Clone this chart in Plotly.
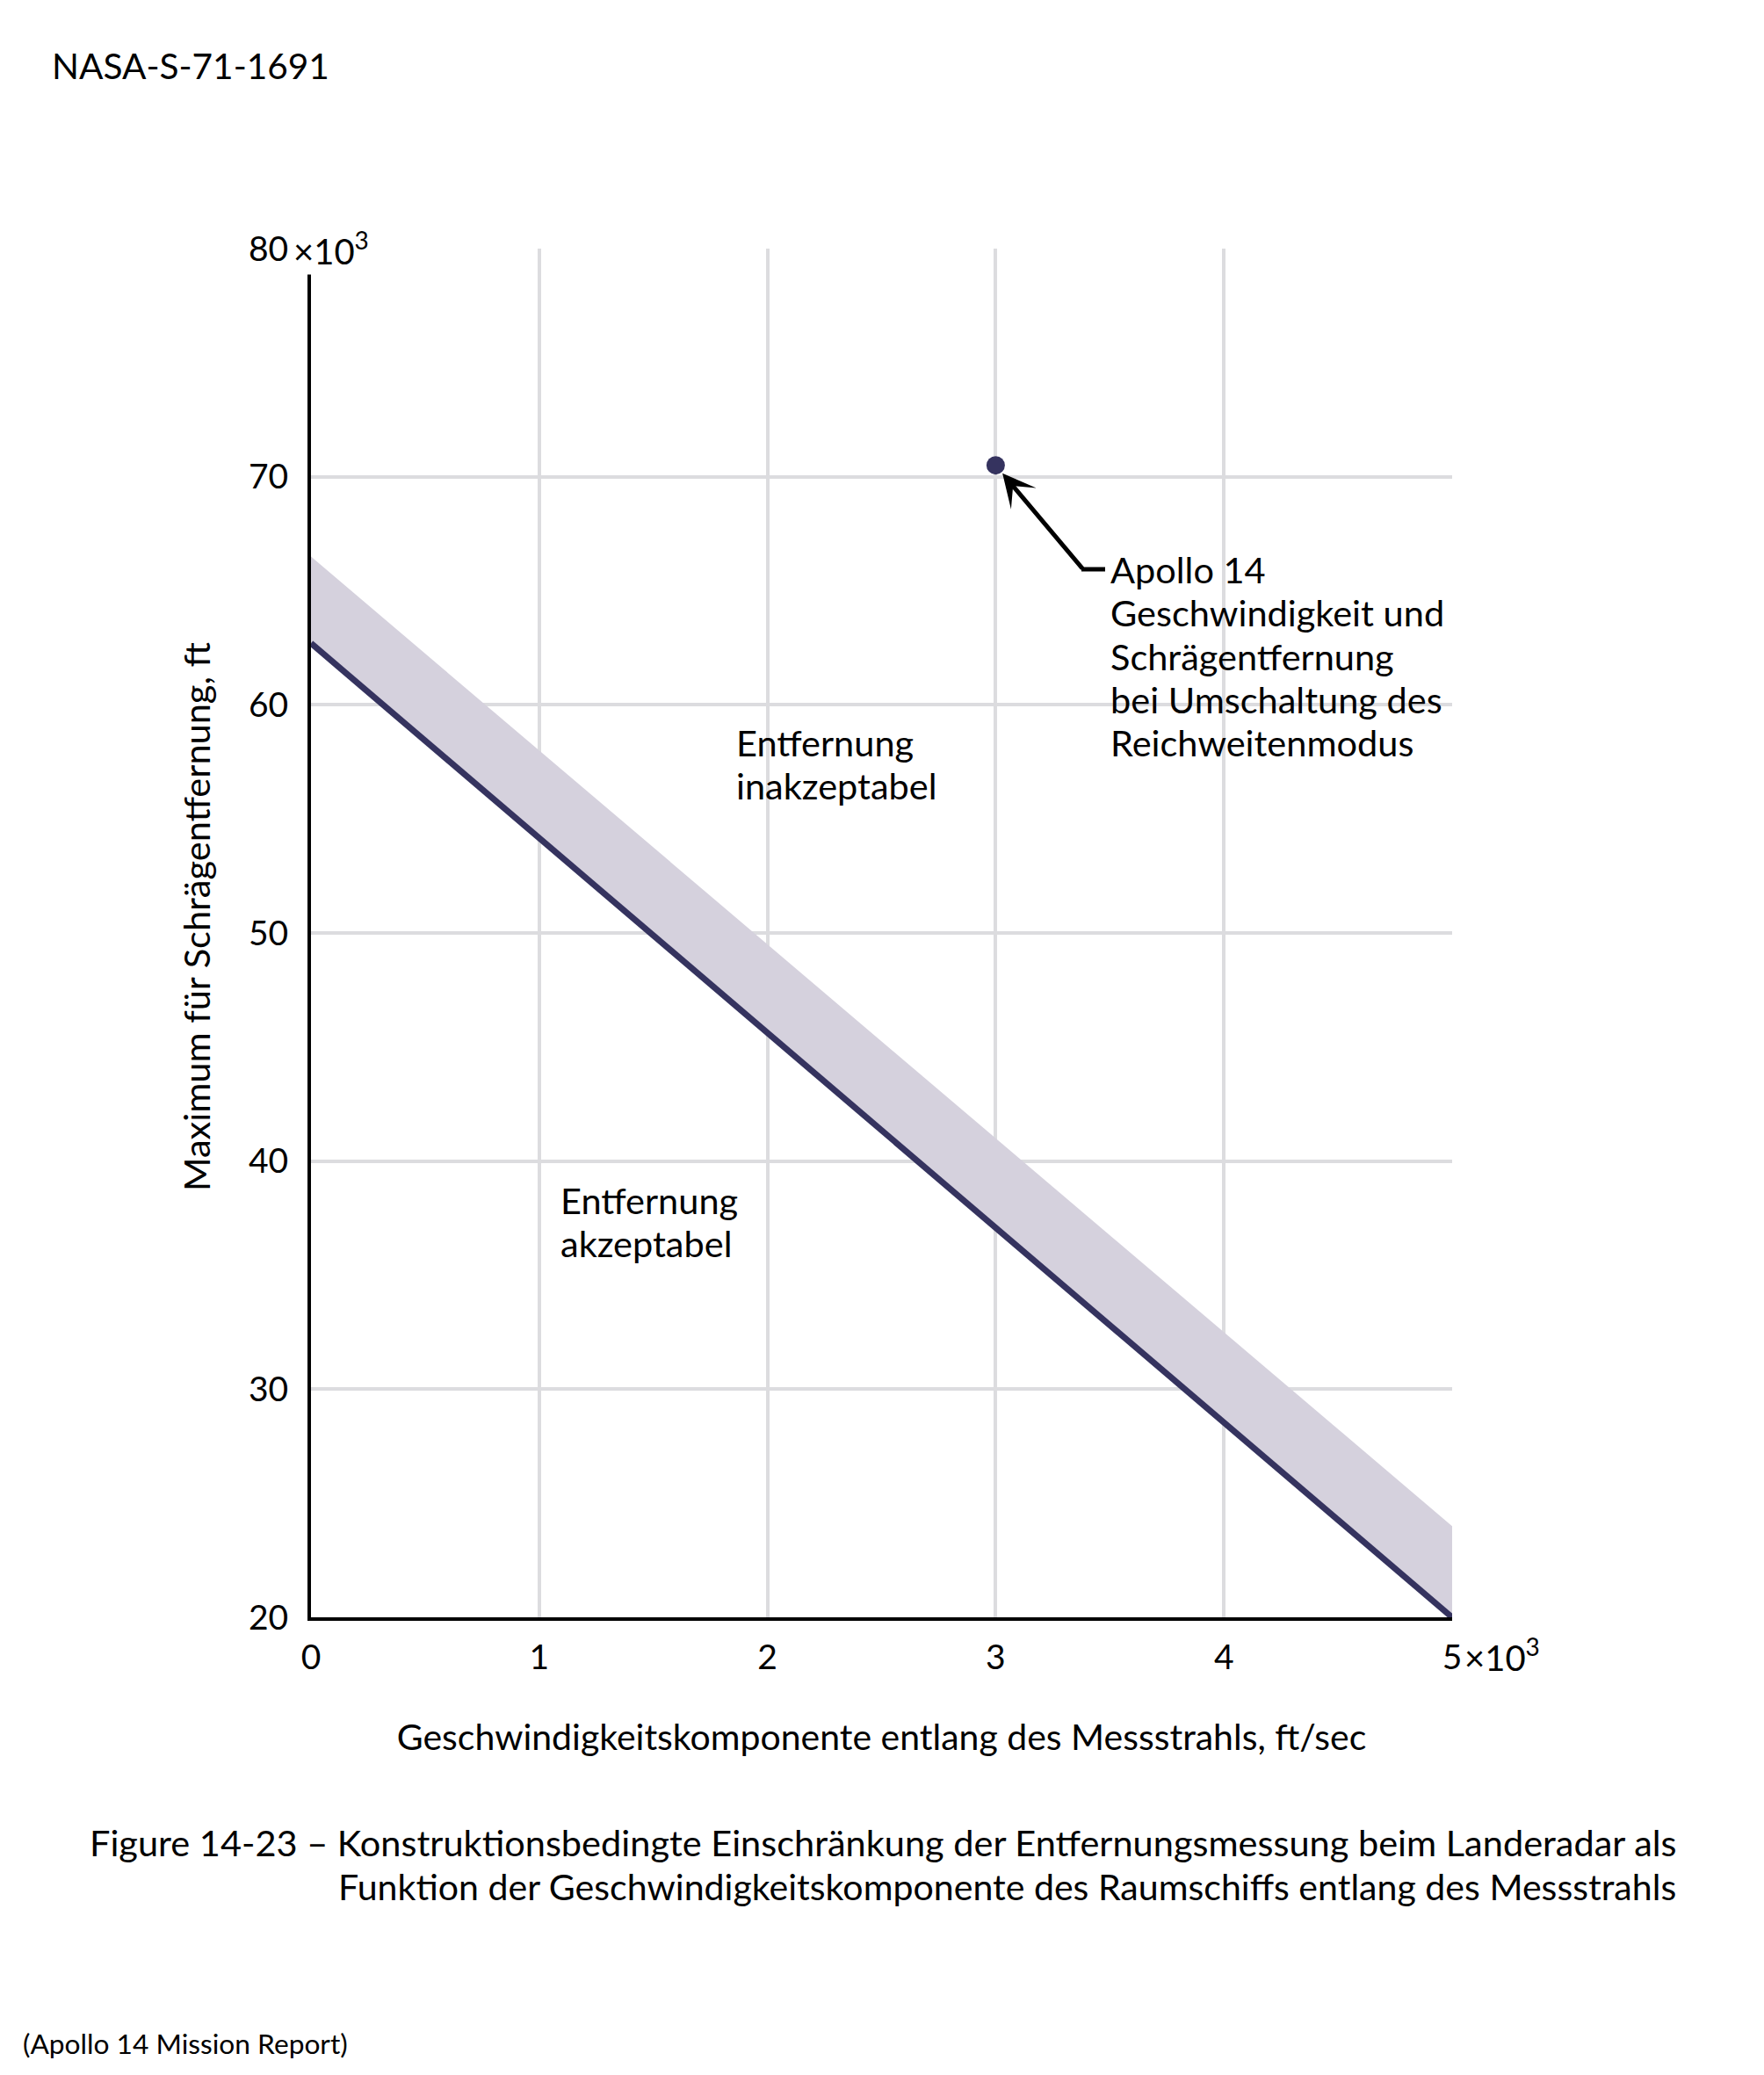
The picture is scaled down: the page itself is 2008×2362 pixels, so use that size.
import plotly.graph_objects as go

# ---- data ----
x_band = [0, 5]
band_upper = [66.5, 24.0]
band_lower = [62.7, 20.0]
apollo_x = [3.0]
apollo_y = [70.5]
x_ticks = [0, 1, 2, 3, 4, 5]
x_ticktext = ["0", "1", "2", "3", "4", "5"]
y_ticks = [20, 30, 40, 50, 60, 70, 80]
y_ticktext = ["20", "30", "40", "50", "60", "70", "80"]
apollo_lines = ["Apollo 14", "Geschwindigkeit und", "Schrägentfernung",
                "bei Umschaltung des", "Reichweitenmodus"]
inakz_lines = ["Entfernung", "inakzeptabel"]
akz_lines = ["Entfernung", "akzeptabel"]
caption_lines = ["Figure 14-23 – Konstruktionsbedingte Einschränkung der Entfernungsmessung beim Landeradar als",
                 "Funktion der Geschwindigkeitskomponente des Raumschiffs entlang des Messstrahls"]
x_title = "Geschwindigkeitskomponente entlang des Messstrahls, ft/sec"
y_title = "Maximum für Schrägentfernung, ft"

W, H = 2008, 2362
PLOT_X0, PLOT_Y0, PLOT_X1, PLOT_Y1 = 354, 283, 1653, 1841   # target plot box on screen
OFF = 8                                                      # page body margin
L, T = PLOT_X0 - OFF, PLOT_Y0 - OFF
R, B = W - L - (PLOT_X1 - PLOT_X0), H - T - (PLOT_Y1 - PLOT_Y0)
PW, PH = PLOT_X1 - PLOT_X0, PLOT_Y1 - PLOT_Y0
FONT = "Lato, 'Noto Sans', sans-serif"
FS = 41.5
NAVY = "#35335f"
BAND = "#d5d1dd"
GRID = "#dcdcdf"

def px(x):  # screen pixel x -> paper x
    return (x - PLOT_X0) / PW

def py(y):  # screen pixel y -> paper y
    return (PLOT_Y1 - y) / PH

fig = go.Figure()
fig.add_trace(go.Scatter(x=x_band, y=band_lower, mode="lines", line=dict(width=0, color=BAND),
                         showlegend=False, hoverinfo="skip"))
fig.add_trace(go.Scatter(x=x_band, y=band_upper, mode="lines", line=dict(width=0, color=BAND),
                         fill="tonexty", fillcolor=BAND, showlegend=False, hoverinfo="skip"))
fig.add_trace(go.Scatter(x=x_band, y=band_lower, mode="lines", line=dict(width=7, color=NAVY),
                         showlegend=False))
fig.add_trace(go.Scatter(x=apollo_x, y=apollo_y, mode="markers",
                         marker=dict(size=21, color=NAVY), showlegend=False))

ann = []
# arrow from label to point
ann.append(dict(x=apollo_x[0], y=apollo_y[0], xref="x", yref="y",
                ax=100, ay=119, axref="pixel", ayref="pixel",
                text="", showarrow=True, arrowhead=3, arrowsize=1.25, arrowwidth=5,
                arrowcolor="black", standoff=12))
fig.add_shape(type="line", xref="paper", yref="paper", x0=px(1231), x1=px(1258),
              y0=py(648), y1=py(648), line=dict(color="black", width=5))

def text_block(lines, x_left, y_first, step=49.3, size=FS):
    for i, t in enumerate(lines):
        ann.append(dict(x=px(x_left), y=py(y_first + i * step), xref="paper", yref="paper",
                        xanchor="left", yanchor="middle", showarrow=False, text=t,
                        font=dict(size=size, family=FONT, color="black")))

text_block(apollo_lines, 1262, 648)
text_block(inakz_lines, 836, 845)
text_block(akz_lines, 636, 1366)

# y axis title (offset upward like the reference)
ann.append(dict(x=px(223), y=py(1044), xref="paper", yref="paper", xanchor="center", yanchor="middle",
                showarrow=False, text=y_title, textangle=-90,
                font=dict(size=FS, family=FONT, color="black")))

# exponent labels
ann.append(dict(x=px(331), y=py(283), xref="paper", yref="paper", xanchor="left", yanchor="middle",
                showarrow=False, text="×10<sup>3</sup>", bgcolor="white", borderpad=2,
                font=dict(size=40, family=FONT, color="black")))
ann.append(dict(x=px(1665), y=py(1884), xref="paper", yref="paper", xanchor="left", yanchor="middle",
                showarrow=False, text="×10<sup>3</sup>",
                font=dict(size=40, family=FONT, color="black")))
# header / caption / footer
ann.append(dict(x=px(57), y=py(75), xref="paper", yref="paper", xanchor="left", yanchor="middle",
                showarrow=False, text="NASA-S-71-1691", font=dict(size=40.6, family=FONT, color="black")))
ann.append(dict(x=px(100), y=py(2097), xref="paper", yref="paper", xanchor="left", yanchor="middle",
                showarrow=False, text=caption_lines[0],
                font=dict(size=FS, family=FONT, color="black")))
ann.append(dict(x=px(383), y=py(2147), xref="paper", yref="paper", xanchor="left", yanchor="middle",
                showarrow=False, text=caption_lines[1],
                font=dict(size=41.1, family=FONT, color="black")))
ann.append(dict(x=px(24), y=py(2326), xref="paper", yref="paper", xanchor="left", yanchor="middle",
                showarrow=False, text="(Apollo 14 Mission Report)",
                font=dict(size=31.7, family=FONT, color="black")))

fig.update_layout(
    width=W, height=H, margin=dict(l=L, r=R, t=T, b=B, pad=0),
    paper_bgcolor="white", plot_bgcolor="white",
    font=dict(family=FONT, size=39, color="black"),
    annotations=ann, showlegend=False,
    xaxis=dict(range=[0, 5], tickvals=x_ticks, ticktext=x_ticktext, showgrid=True,
               gridcolor=GRID, gridwidth=4, showline=True, linecolor="black", linewidth=4,
               zeroline=False, ticks="", tickfont=dict(size=39, family=FONT),
               ticklabelstandoff=8,
               title=dict(text=x_title, font=dict(size=41, family=FONT), standoff=58)),
    yaxis=dict(range=[20, 80], tickvals=y_ticks, ticktext=y_ticktext, showgrid=True,
               gridcolor=GRID, gridwidth=4, showline=True, linecolor="black", linewidth=4,
               zeroline=False, ticks="", tickfont=dict(size=39, family=FONT),
               ticklabelstandoff=14),
)

fig.write_html("out.html")
